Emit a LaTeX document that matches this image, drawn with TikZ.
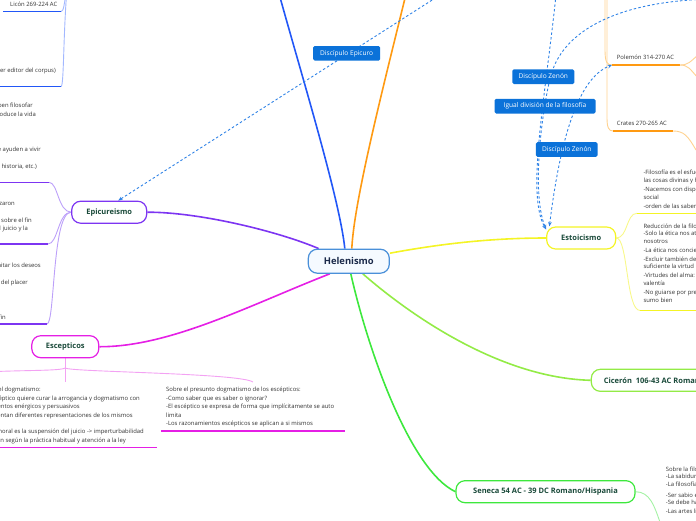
\documentclass[tikz,border=0pt]{standalone}
\usepackage{fontspec}
\setmainfont{Open Sans}
\usetikzlibrary{arrows.meta}
\pgfdeclarelayer{bg}
\pgfsetlayers{bg,main}
\definecolor{cblue}{HTML}{2257F7}
\definecolor{cbluel}{HTML}{A3B8FF}
\definecolor{corange}{HTML}{FF9A12}
\definecolor{corangel}{HTML}{FFD290}
\definecolor{cyellow}{HTML}{F4F425}
\definecolor{cyellowl}{HTML}{F8F88A}
\definecolor{clime}{HTML}{93EB46}
\definecolor{cgreen}{HTML}{3DE83D}
\definecolor{cgreenl}{HTML}{A4F2A4}
\definecolor{cpurple}{HTML}{7D35F2}
\definecolor{cpurplel}{HTML}{BCA0F9}
\definecolor{cmag}{HTML}{E51FE5}
\definecolor{cmagl}{HTML}{F3A2F3}
\definecolor{clink}{HTML}{2F83E6}
\definecolor{clabel}{HTML}{0B72D9}
\definecolor{ctitle}{HTML}{1A4A3A}
\definecolor{cnavy}{HTML}{1B2A4A}
\definecolor{ctext}{HTML}{333333}
\definecolor{chelb}{HTML}{4A90D9}
\definecolor{chelf}{HTML}{F5FAFF}
\begin{document}
\begin{tikzpicture}[x=1pt,y=-1pt,
  topic/.style={draw, rounded corners=9pt, fill=white, line width=1.2pt,
    font=\fontsize{7.5}{8}\selectfont\bfseries, text=ctitle, inner sep=0pt, minimum height=22pt},
  small/.style={font=\fontsize{5.9}{8}\selectfont, text=ctext, inner sep=0pt},
  lab/.style={fill=clabel, text=white, rounded corners=1.5pt, font=\fontsize{6.6}{7}\selectfont,
    inner sep=0pt, minimum height=14.6pt},
  link/.style={draw=clink, line width=0.9pt, dash pattern=on 2.5pt off 2.2pt},
  tip/.style={-{Stealth[length=4.5pt,width=3.6pt]}},
  branch/.style={line width=1.6pt},
  brk/.style={line width=0.9pt},
  uline/.style={line width=1.5pt}]
\useasboundingbox (0,0) rectangle (696,520);
\clip (0,0) rectangle (696,520);

% ---------- main topics
\node[topic, draw=chelb, fill=chelf, text=cnavy, minimum width=81pt, minimum height=24pt,
  font=\fontsize{9.4}{10}\selectfont\bfseries] (hel) at (348.8,261.2) {Helenismo};
\node[topic, draw=cpurple, minimum width=75pt] (epi) at (109.2,212.2) {Epicureismo};
\node[topic, draw=cmag, minimum width=67pt] (esc) at (65.3,346.7) {Escepticos};
\node[topic, draw=cyellow, minimum width=69pt] (est) at (581.2,238) {Estoicismo};
\node[topic, draw=cgreen, minimum width=179pt] (sen) at (545.5,491.7) {Seneca 54 AC - 39 DC Romano/Hispania};
\node[topic, draw=clime, anchor=west, inner xsep=12.5pt] (cic) at (590.7,380.3) {Cicerón\ \ 106-43 AC Romano};

% ---------- labels on links
\node[lab, minimum width=67pt] (l1) at (346.7,53.3) {Discípulo Epicuro};
\node[lab, minimum width=62pt] (l2) at (543.3,76.7) {Discípulo Zenón};
\node[lab, minimum width=101pt] (l3) at (545,106.2) {Igual división de la filosofía};
\node[lab, minimum width=61.7pt] (l4) at (566.8,149.5) {Discípulo Zenón};

% ---------- top-left (blue branch children)
\node[small, anchor=west] (b1) at (10,4) {Licón 269-224 AC};
\node[small, anchor=east] (b2) at (56,70.7) {Andrónico de Rodas (primer editor del corpus)};

% ---------- Epicureismo texts
\node[small, anchor=east] (e1) at (33,105.8) {-Jóvenes y viejos deben filosofar};
\node[small, anchor=east] (e2) at (36,115.3) {-La filosofía produce la vida};
\node[small, anchor=east] (e3) at (41,149.8) {-Conocimientos que ayuden a vivir};
\node[small, anchor=east] (e4) at (37,166.8) {(física, historia, etc.)};
\node[small, anchor=east] (e5) at (15,204) {-Los que lo rechazaron};
\node[small, anchor=east] (e6) at (32,220) {-Dudas sobre el fin};
\node[small, anchor=east] (e7) at (28,228.7) {-Suspensión del juicio y la};
\node[small, anchor=east] (e8) at (41,265.7) {-Hay que limitar los deseos};
\node[small, anchor=east] (e9) at (28,283.3) {-Búsqueda del placer};
\node[small, anchor=east] (e10) at (6,317) {-Ataraxia como fin};

% ---------- Escepticos texts
\node[small, anchor=east] (s1) at (41,390) {Sobre el dogmatismo:};
\node[small, anchor=east] (s2) at (140,399.3) {-El escéptico quiere curar la arrogancia y dogmatismo con};
\node[small, anchor=east] (s3) at (80,407) {argumentos enérgicos y persuasivos};
\node[small, anchor=east] (s4) at (133,415.7) {-Se presentan diferentes representaciones de los mismos};
\node[small, anchor=east] (s5) at (144,432.3) {-La actitud moral es la suspensión del juicio -> imperturbabilidad};
\node[small, anchor=east] (s6) at (126,441) {-Vivir en según la práctica habitual y atención a la ley};
\node[small, anchor=west] (r1) at (166,390) {Sobre el presunto dogmatismo de los escépticos:};
\node[small, anchor=west] (r2) at (166,399) {-Como saber que es saber o ignorar?};
\node[small, anchor=west] (r3) at (166,407) {-El escéptico se expresa de forma que implícitamente se auto};
\node[small, anchor=west] (r4) at (166,415.3) {limita};
\node[small, anchor=west] (r5) at (166,423.7) {-Los razonamientos escépticos se aplican a si mismos};

% ---------- Orange children
\node[small, anchor=west] (p1) at (616.7,57.7) {Polemón 314-270 AC};
\node[small, anchor=west] (p2) at (616.7,123.3) {Crates 270-265 AC};

% ---------- Estoicismo texts
\node[small, anchor=west] (z1) at (643.3,173.3) {-Filosofía es el esfuerzo por conocer};
\node[small, anchor=west] (z2) at (643.3,180.7) {las cosas divinas y humanas};
\node[small, anchor=west] (z3) at (643.3,190) {-Nacemos con disposición};
\node[small, anchor=west] (z4) at (643.3,197.7) {social};
\node[small, anchor=west] (z5) at (643.3,206.7) {-orden de las saberes};
\node[small, anchor=west] (z6) at (643.3,226) {Reducción de la filosofía a la ética};
\node[small, anchor=west] (z7) at (643.3,233.3) {-Solo la ética nos atañe a};
\node[small, anchor=west] (z8) at (643.3,241.7) {nosotros};
\node[small, anchor=west] (z9) at (643.3,250) {-La ética nos concierne};
\node[small, anchor=west] (z10) at (643.3,259.3) {-Excluir también de};
\node[small, anchor=west] (z11) at (643.3,266.7) {suficiente la virtud};
\node[small, anchor=west] (z12) at (643.3,276) {-Virtudes del alma: prudencia,};
\node[small, anchor=west] (z13) at (643.3,283.3) {valentía};
\node[small, anchor=west] (z14) at (643.3,292.7) {-No guiarse por preferencias};
\node[small, anchor=west] (z15) at (643.3,300.7) {sumo bien};

% ---------- Seneca texts
\node[small, anchor=west] (n1) at (665.7,469) {Sobre la filosofía:};
\node[small, anchor=west] (n2) at (665.7,476.7) {-La sabiduría};
\node[small, anchor=west] (n3) at (665.7,484.3) {-La filosofía};
\node[small, anchor=west] (n4) at (665.7,495) {-Ser sabio es};
\node[small, anchor=west] (n5) at (665.7,502.7) {-Se debe hacer};
\node[small, anchor=west] (n6) at (665.7,511.7) {-Las artes liberales};

% ---------- coordinates
\coordinate (bluetop) at (278,-10);
\coordinate (orangetop) at (407,-10);
\coordinate (blp) at (67,-12);
\coordinate (bl1) at (61,11.7);
\coordinate (bl2) at (61,86.7);
\coordinate (eu1) at (49,182.3);
\coordinate (eu2) at (48,244);
\coordinate (eu3) at (47,324);
\coordinate (escsplit) at (65.3,368);
\coordinate (escl) at (65.3,382);
\coordinate (escr) at (253,382);
\coordinate (escfar) at (-15,372);
\coordinate (es1) at (637,213.3);
\coordinate (es2) at (640,310.5);
\coordinate (sb) at (661,525);
\coordinate (optop) at (605,-5);
\coordinate (op2top) at (607,-5);
\coordinate (pol) at (612,65);
\coordinate (cra) at (613,131);
\coordinate (epsrc) at (440,-5);
\coordinate (asrc) at (556,-5);
\coordinate (bsrc) at (720,-1);
\coordinate (bmid) at (551,75);

\begin{pgfonlayer}{bg}
% main branches
\draw[branch, cblue] ([xshift=-4pt]hel.north) .. controls (340,200) and (300,70) .. (bluetop);
\draw[branch, corange] ([xshift=3pt]hel.north) .. controls (354,200) and (385,80) .. (orangetop);
\draw[branch, cpurple] (epi.east) .. controls (200,212) and (280,232) .. ([xshift=11pt]hel.north west);
\draw[branch, cmag] (esc.east) .. controls (170,347) and (250,305) .. ([xshift=-19pt]hel.south);
\draw[branch, cyellow] ([yshift=8pt]hel.east) .. controls (450,242) and (500,238) .. (est.west);
\draw[branch, clime] ([xshift=14pt]hel.south) .. controls (410,315) and (500,378) .. (cic.west);
\draw[branch, cgreen] ([xshift=2pt]hel.south) .. controls (368,350) and (410,470) .. (sen.west);

% blue children (top-left)
\draw[brk, cbluel] (bl1) .. controls (64,11) and (64,4) .. (blp);
\draw[brk, cbluel] (bl2) .. controls (64,86) and (63,40) .. (blp);
\draw[uline, cblue] (3,11.7) -- (bl1);
\draw[uline, cblue] (-5,86.7) -- (bl2);

% Epicureismo children
\draw[brk, cpurplel] (epi.west) .. controls (58,212) and (58,182.3) .. (eu1);
\draw[brk, cpurplel] (epi.west) .. controls (58,212) and (58,244) .. (eu2);
\draw[brk, cpurplel] (epi.west) .. controls (52,212) and (55,324) .. (eu3);
\draw[uline, cpurple] (-5,182.3) -- (eu1);
\draw[uline, cpurple] (-5,244) -- (eu2);
\draw[uline, cpurple] (-5,324) -- (eu3);

% Escepticos children
\draw[brk, cmagl] (esc.south) -- (escl);
\draw[brk, cmagl] (escsplit) .. controls (70,372) and (240,373) .. (escr);
\draw[brk, cmagl] (escsplit) .. controls (60,371) and (25,370) .. (escfar);
\draw[uline, cmag] (-10,447.7) -- (157,447.7);
\draw[uline, cmag] (161,431) -- (345,431);

% Estoicismo children
\draw[brk, cyellowl] (est.east) .. controls (628,238) and (626,213.3) .. (es1);
\draw[brk, cyellowl] (est.east) .. controls (628,238) and (626,310.5) .. (es2);
\draw[uline, cyellow] (es1) -- (700,213.3);
\draw[uline, cyellow] (es2) -- (700,310.5);

% Seneca children
\draw[brk, cgreenl] (sen.east) .. controls (650,492) and (654,505) .. (sb);

% orange children
\draw[brk, corangel] (optop) -- (605,50) .. controls (605,62) and (607,65) .. (pol);
\draw[brk, corangel] (op2top) -- (607,118) .. controls (607,128) and (609,131) .. (cra);
\draw[uline, corange] (pol) -- (680,65);
\draw[uline, corange] (cra) -- (673,131);
\draw[brk, corangel] (680,65) .. controls (688,65) and (690,62) .. (698,55);
\draw[brk, corangel] (680,65) .. controls (688,65) and (690,69) .. (698,78);
\draw[brk, corangel] (673,131) .. controls (684,131) and (688,136) .. (696,150);

% dashed relationship links
\draw[link, tip] (epsrc) -- ([xshift=9pt]epi.north);
\draw[link, tip] (asrc) .. controls (545,100) and (526,195) .. ([yshift=-3pt]est.north west);
\draw[link] (bsrc) .. controls (630,-1) and (565,25) .. (bmid);
\draw[link, tip] (bmid) .. controls (544,100) and (530,190) .. ([yshift=-3pt]est.north west);
\draw[link, {Stealth[length=4.5pt,width=3.6pt]}-{Stealth[length=4.5pt,width=3.6pt]}]
  ([xshift=3.3pt]est.north west) .. controls (560,140) and (578,78) .. (pol);
\end{pgfonlayer}
\end{tikzpicture}
\end{document}
